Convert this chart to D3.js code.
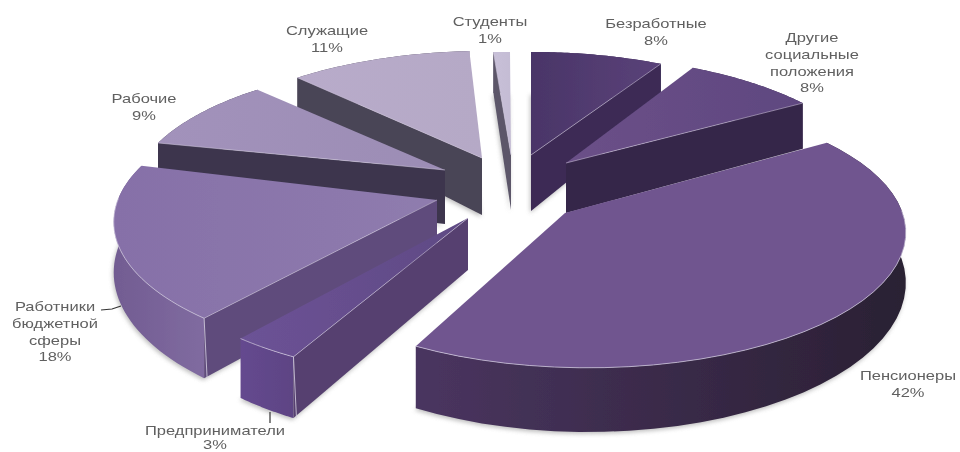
<!DOCTYPE html>
<html><head><meta charset="utf-8">
<style>html,body{margin:0;background:#fff}svg{display:block}text{font-family:"Liberation Sans",Arial,sans-serif}</style>
<script src="https://cdnjs.cloudflare.com/ajax/libs/d3/7.8.5/d3.min.js"></script>
</head><body><script>
const categories = ["Безработные","Другие социальные положения","Пенсионеры","Предприниматели","Работники бюджетной сферы","Рабочие","Служащие","Студенты"];
const shares = [8,8,42,3,18,9,11,1];

// styling and layout of the exploded 3D pie (not data)
const topColors   = [["#4a3568","#5a4279"],["#6b5088","#5f4780"],["#70558f","#70558f"],["#6c5296","#5f4a84"],["#8670a8","#8f7cae"],["#a292bb","#9c8db5"],["#b8abca","#b5a9c6"],["#c8c0d8","#c4bcd4"]];
const sideColors  = ["#3c2a55","#35254a",null,"#564170","#5f4c7c","#3d364e","#4a4457","#5b5669"];
const outerColors = [["#3c2a55","#3c2a55"],["#35254a","#35254a"],["#4a3560","#2a2033"],["#65498f","#5d4484"],["#725c92","#806ba0"],["#3d364e","#3d364e"],["#4a4457","#4a4457"],["#5b5669","#5b5669"]];
const drawOrder = [7,6,5,0,1,4,3,2];
const centers = [[531,163],[563,167],[588,209],[464,221],[441,198],[446,174],[486,162],[510,163]];
const tipShift = [[0,-8],[3,-4],[-23,4],[4,-3],[-4,2],[-1,-4],[-4,-4],[1,-8]];
const tipDepth = [56,50,52,52,52,54,57,55];
const rimTurn = [0,0,-1,-1,0,0,0,0];
const sliceScale = [1,1,1.01,1,1.04,1,1,1];
const depthScale = [1,1,.93,.92,.93,1,1,1];
const labelLines = [["Безработные","8%"],["Другие","социальные","положения","8%"],["Пенсионеры","42%"],["Предприниматели","3%"],["Работники","бюджетной","сферы","18%"],["Рабочие","9%"],["Служащие","11%"],["Студенты","1%"]];
const labelAnchors = [[656,28],[812,42],[908,380],[215,434.5],[55,311],[144,103],[327,35],[490,26]];
const labelSteps = [16.8,16.8,16.8,14,16.8,16.8,16.8,16.8];
const leaders = [null,null,null,[[270,412],[270,423]],[[101,310],[112,309],[121,306]],null,null,null];

const W=960,H=452, R=310, squash=.42, persp=.172, h0=52, textStretch=1.27;
const svg=d3.select("body").append("svg").attr("width",W).attr("height",H);
const defs=svg.append("defs");
defs.append("filter").attr("id","soft").attr("x","-20%").attr("y","-20%").attr("width","140%").attr("height","140%")
  .append("feGaussianBlur").attr("stdDeviation",.5);
defs.append("filter").attr("id","shade").attr("x","-20%").attr("y","-20%").attr("width","140%").attr("height","140%")
  .append("feGaussianBlur").attr("stdDeviation",2.2);
function grad(id,c){
  const g=defs.append("linearGradient").attr("id",id);
  g.append("stop").attr("offset",0).attr("stop-color",c[0]);
  g.append("stop").attr("offset",1).attr("stop-color",c[1]);
  return `url(#${id})`;
}
const k=v=>1/(1-persp*v);
const depth=v=>h0*Math.pow(k(v),1.5);
const line=d3.line().x(d=>d[0]).y(d=>d[1]);
const arcs=d3.pie().sort(null)(shares);

function geometry(i){
  const a=arcs[i], [cx,cy]=centers[i], s=sliceScale[i], turn=rimTurn[i]*Math.PI/180;
  const P=t=>{const u=Math.sin(t+turn),v=-Math.cos(t+turn),kk=k(v);
    return {x:cx+R*s*u*kk, y:cy+R*s*squash*v*kk, d:depth(v)*depthScale[i], v};};
  const ts=d3.range(0,41).map(j=>a.startAngle+(a.endAngle-a.startAngle)*j/40);
  const rim=ts.map(P);
  const tip=[cx+tipShift[i][0],cy+tipShift[i][1]];
  return {rim,tip,mid:P((a.startAngle+a.endAngle)/2)};
}
const chart=svg.append("g").attr("filter","url(#soft)");

drawOrder.forEach(i=>{
  const g=geometry(i), r=g.rim, tip=g.tip, g0=chart.append("g");
  const N=r.length-1, tipD=tipDepth[i];
  const inner=[tip[0]+(g.mid.x-tip[0])*.5, tip[1]+(g.mid.y-tip[1])*.5];
  const faces=e=>{ // true when the slice interior lies above this radial edge on screen
    const dx=e.x-tip[0]; if(Math.abs(dx)<1.5) return false;
    const ly=tip[1]+(inner[0]-tip[0])/dx*(e.y-tip[1]);
    return inner[1]<ly;
  };
  const rimBottom=r.map(p=>[p.x,p.y+p.d]);
  const outer=r.map(p=>[p.x,p.y]).concat(rimBottom.slice().reverse());
  g0.append("path").attr("d",line(rimBottom.concat([[tip[0],tip[1]+tipD]]))+"Z")
    .attr("fill","#8a8a8a").attr("opacity",.55).attr("filter","url(#shade)")
    .attr("transform","translate(-1,2)");
  g0.append("path").attr("d",line(outer)+"Z").attr("fill",grad("o"+i,outerColors[i]));
  [r[0],r[N]].forEach(e=>{
    if(sideColors[i] && faces(e)){
      g0.append("path").attr("d",line([tip,[e.x,e.y],[e.x,e.y+e.d],[tip[0],tip[1]+tipD]])+"Z").attr("fill",sideColors[i]);
    }
  });
  g0.append("path").attr("d",line([tip].concat(r.map(p=>[p.x,p.y])))+"Z").attr("fill",grad("t"+i,topColors[i]));
  // pale highlight along the near part of the rim and the visible radial edges
  const near=r.filter(p=>p.v>-.02).map(p=>[p.x,p.y]);
  if(near.length>1) g0.append("path").attr("d",line(near)).attr("fill","none").attr("stroke","#cfc7dd").attr("stroke-opacity",.75).attr("stroke-width",1);
  [r[0],r[N]].forEach(e=>{
    if(faces(e)) g0.append("path").attr("d",line([tip,[e.x,e.y]])).attr("fill","none").attr("stroke","#cfc7dd").attr("stroke-opacity",.55).attr("stroke-width",1);
  });
  if(i===3||i===4){
    const c=r[0];
    g0.append("path").attr("d",line([[c.x,c.y],[c.x+3,c.y+c.d]])).attr("fill","none").attr("stroke","#d8d2e4").attr("stroke-opacity",.8).attr("stroke-width",1);
  }
});

const labels=svg.append("g").attr("filter","url(#soft)");
labelLines.forEach((ls,i)=>{
  ls.forEach((s,j)=>{
    labels.append("text").attr("text-anchor","middle").attr("fill","#606060").attr("font-size",13)
      .attr("transform",`translate(${labelAnchors[i][0]},${labelAnchors[i][1]+j*labelSteps[i]}) scale(${textStretch},1)`).text(s);
  });
  if(leaders[i]) labels.append("path").attr("d",d3.line()(leaders[i])).attr("fill","none").attr("stroke","#333").attr("stroke-width",1.2);
});
</script></body></html>
